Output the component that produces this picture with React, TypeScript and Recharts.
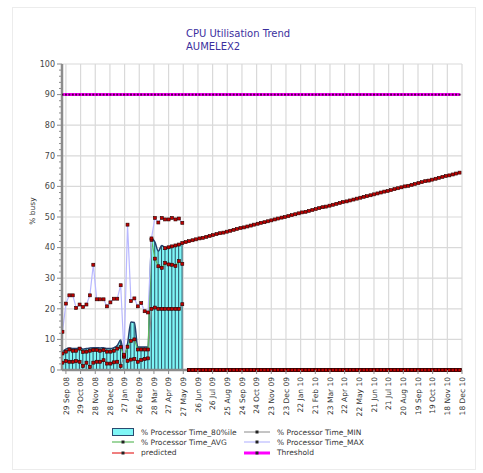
import { ComposedChart, Area, Bar, Line, XAxis, YAxis, CartesianGrid } from "recharts";

// x axis labels, one every 30 days starting 29 Sep 08
const TICK_LABELS = [
  "29 Sep 08", "29 Oct 08", "28 Nov 08", "28 Dec 08", "27 Jan 09", "26 Feb 09", "28 Mar 09",
  "27 Apr 09", "27 May 09", "26 Jun 09", "26 Jul 09", "25 Aug 09", "24 Sep 09", "24 Oct 09",
  "23 Nov 09", "23 Dec 09", "22 Jan 10", "21 Feb 10", "23 Mar 10", "22 Apr 10", "22 May 10",
  "21 Jun 10", "21 Jul 10", "20 Aug 10", "19 Sep 10", "19 Oct 10", "18 Nov 10", "18 Dec 10",
];

// weekly samples, first one a week before 29 Sep 08
const FIRST_DAY = -7;
const WEEK = 7;

// measured history (36 weeks)
const HIST_P80 = [
  6.0, 6.8, 7.2, 7.0, 7.0, 7.3, 6.8, 7.0, 7.2, 7.3,
  7.3, 7.2, 7.3, 7.0, 7.0, 7.3, 8.0, 9.8, 4.5, 8.5,
  15.7, 15.5, 7.5, 7.5, 7.5, 7.5, 42.9, 41.8, 38.8, 40.7,
  40.0, 40.3, 40.5, 40.8, 41.0, 41.5,
];
const HIST_AVG = [
  5.4, 6.0, 6.7, 6.3, 6.3, 7.0, 5.9, 6.0, 6.3, 6.5,
  6.5, 6.3, 6.5, 6.0, 6.0, 6.3, 7.0, 7.5, 4.4, 7.6,
  9.5, 10.0, 6.7, 6.7, 6.7, 6.7, 42.5, 36.4, 33.9, 33.4,
  35.0, 34.5, 34.4, 34.0, 35.6, 34.7,
];
const HIST_MIN = [
  2.4, 2.9, 2.7, 2.7, 2.9, 2.7, 1.3, 2.4, 1.0, 2.4,
  2.7, 2.7, 3.2, 2.1, 2.1, 2.5, 2.7, 1.3, 4.4, 3.0,
  3.4, 3.6, 2.7, 3.3, 3.6, 3.8, 20.0, 20.4, 20.0, 20.0,
  20.0, 20.0, 20.0, 20.0, 20.0, 21.5,
];
const HIST_MAX = [
  12.5, 21.7, 24.4, 24.4, 20.3, 21.4, 20.6, 21.4, 24.4, 34.4,
  23.1, 23.1, 23.1, 20.8, 22.1, 23.3, 23.3, 27.7, 5.0, 47.5,
  22.5, 23.4, 20.8, 21.9, 19.2, 18.8, 43.0, 49.7, 48.2, 49.7,
  49.2, 49.2, 49.7, 49.2, 49.5, 48.1,
];

// trend forecast, from week 30 to the end
const PREDICTED_START = 30;
const PREDICTED = [
  39.8, 40.1, 40.4, 40.7, 41.0, 41.5, 41.8, 42.1, 42.4, 42.7,
  43.0, 43.2, 43.5, 43.8, 44.1, 44.4, 44.7, 44.9, 45.2, 45.5,
  45.8, 46.1, 46.4, 46.6, 46.9, 47.2, 47.5, 47.8, 48.1, 48.3,
  48.6, 48.9, 49.2, 49.5, 49.8, 50.0, 50.3, 50.6, 50.9, 51.2,
  51.5, 51.7, 52.0, 52.3, 52.6, 52.9, 53.2, 53.4, 53.7, 54.0,
  54.3, 54.6, 54.9, 55.1, 55.4, 55.7, 56.0, 56.3, 56.6, 56.8,
  57.1, 57.4, 57.7, 58.0, 58.3, 58.5, 58.8, 59.1, 59.4, 59.7,
  60.0, 60.2, 60.5, 60.8, 61.1, 61.4, 61.7, 61.9, 62.2, 62.5,
  62.8, 63.1, 63.4, 63.6, 63.9, 64.2, 64.5,
];

// after the history the measured series sit on 0 (one empty week in between)
const FUTURE_START = 37;
const FUTURE_VALUE = 0;
const THRESHOLD = 90;

const WEEK_COUNT = PREDICTED_START + PREDICTED.length;

const pick = (arr: number[], i: number) =>
  i < arr.length ? arr[i] : i >= FUTURE_START ? FUTURE_VALUE : null;

const rows = Array.from({ length: WEEK_COUNT }, (_, i) => ({
  day: FIRST_DAY + WEEK * i,
  p80: pick(HIST_P80, i),
  avg: pick(HIST_AVG, i),
  min: pick(HIST_MIN, i),
  max: pick(HIST_MAX, i),
  predicted: i >= PREDICTED_START ? PREDICTED[i - PREDICTED_START] : null,
  threshold: THRESHOLD,
}));

const TICK_DAYS = TICK_LABELS.map((_, k) => k * 30);
const Y_TICKS = Array.from({ length: 51 }, (_, k) => k * 2);
const Y_GRID = [10, 20, 30, 40, 50, 60, 70, 80, 90, 100];
const X_DOMAIN = [-8, 810];

const FONT = "'DejaVu Sans', Verdana, sans-serif";
const AXIS_GRAY = "#8c8c8c";

const squareDot = (fill: string, stroke: string, size: number) => (p: any) => {
  if (p.cx == null || p.cy == null || p.value == null) return <g key={`n${p.index}`} />;
  return (
    <rect key={`d${p.index}`} x={p.cx - size / 2} y={p.cy - size / 2} width={size} height={size}
      fill={fill} stroke={stroke} strokeWidth={stroke === "none" ? 0 : 0.6} />
  );
};
const redDot = squareDot("#c00000", "#2a0000", 3);
const threshDot = squareDot("#4a0040", "none", 2);

const XTick = (props: any) => {
  const { x, y, payload } = props;
  const ty = y + 7;
  return (
    <g>
      <line x1={x} y1={y} x2={x} y2={y + 4} stroke={AXIS_GRAY} />
      <text x={x} y={ty} transform={`rotate(-90 ${x} ${ty})`} textAnchor="end" dy="0.35em"
        fontSize={7.5} fontFamily={FONT} fill="#333">
        {TICK_LABELS[payload.index]}
      </text>
    </g>
  );
};

const YTick = (props: any) => {
  const { x, y, payload } = props;
  const major = payload.value % 10 === 0;
  return (
    <g>
      <line x1={x} y1={y} x2={x - (major ? 5 : 3)} y2={y} stroke={AXIS_GRAY} />
      {major && (
        <text x={x - 7} y={y} textAnchor="end" dy="0.35em" fontSize={8} fontFamily={FONT} fill="#444">
          {payload.value}
        </text>
      )}
    </g>
  );
};

const legendRows = [
  [
    { label: "% Processor Time_80%ile", kind: "box" },
    { label: "% Processor Time_MIN", kind: "line", color: "#8a8a8a", width: 1 },
  ],
  [
    { label: "% Processor Time_AVG", kind: "line", color: "#7fc97f", width: 1.5 },
    { label: "% Processor Time_MAX", kind: "line", color: "#c8c8ff", width: 1.5 },
  ],
  [
    { label: "predicted", kind: "line", color: "#e00000", width: 1 },
    { label: "Threshold", kind: "line", color: "#ff00ff", width: 3 },
  ],
];

const LegendSymbol = ({ item, w }: { item: any; w: number }) => (
  <svg width={w} height={10} style={{ display: "block", flex: "none" }}>
    {item.kind === "box" ? (
      <rect x={0.5} y={1.5} width={w - 1} height={7} fill="#7ff6f6" stroke="#2a4a70" />
    ) : (
      <>
        <line x1={0} y1={5} x2={w} y2={5} stroke={item.color} strokeWidth={item.width} />
        <rect x={w / 2 - 1.5} y={3.5} width={3} height={3} fill="#222" />
      </>
    )}
  </svg>
);

export default function App() {
  return (
    <div style={{ position: "absolute", left: 0, top: 0, width: 483, height: 473, background: "#fff" }}>
      <div style={{ position: "absolute", left: 12, top: 7, width: 462, height: 461, border: "1px solid #ececec" }} />
      <div style={{ position: "absolute", left: 186, top: 26.5, fontFamily: FONT, fontSize: 10, lineHeight: "13.3px", color: "#3b2f9e" }}>
        <div>CPU Utilisation Trend</div>
        <div>AUMELEX2</div>
      </div>
      <div style={{ position: "absolute", left: 32, top: 211, fontFamily: FONT, fontSize: 7.5, color: "#333",
        transform: "translate(-50%, -50%) rotate(-90deg)", whiteSpace: "nowrap" }}>
        % busy
      </div>

      <div style={{ position: "absolute", left: 0, top: 0 }}>
        <ComposedChart width={483} height={473} data={rows} margin={{ top: 64, right: 21, left: 22, bottom: 53 }}>
          <CartesianGrid stroke="#d9d9d9" strokeWidth={1.2} horizontalValues={Y_GRID} />
          <XAxis type="number" dataKey="day" domain={X_DOMAIN} ticks={TICK_DAYS} interval={0}
            allowDataOverflow tick={<XTick />} tickLine={false} tickSize={0} tickMargin={0} height={50}
            axisLine={{ stroke: AXIS_GRAY, strokeWidth: 2.5 }} />
          <XAxis xAxisId="top" orientation="top" type="number" dataKey="day" domain={X_DOMAIN}
            height={0} tick={false} tickLine={false} axisLine={{ stroke: "#333", strokeWidth: 1 }} />
          <YAxis domain={[0, 100]} ticks={Y_TICKS} interval={0} width={40} tick={<YTick />}
            tickLine={false} tickSize={0} tickMargin={0} axisLine={{ stroke: AXIS_GRAY, strokeWidth: 2.5 }} />
          <YAxis yAxisId="right" orientation="right" domain={[0, 100]} width={0} tick={false}
            tickLine={false} axisLine={{ stroke: "#555", strokeWidth: 1 }} />

          <Area type="monotone" dataKey="p80" fill="#7ff6f6" fillOpacity={1} stroke="#23406e"
            strokeWidth={1.5} dot={false} activeDot={false} isAnimationActive={false} />
          <Bar dataKey="p80" barSize={1} fill="#2b5366" isAnimationActive={false} />
          <Line type="linear" dataKey="min" stroke="#8a8a8a" strokeWidth={1} dot={redDot}
            activeDot={false} isAnimationActive={false} />
          <Line type="linear" dataKey="avg" stroke="#5fb85f" strokeWidth={1.2} dot={redDot}
            activeDot={false} isAnimationActive={false} />
          <Line type="linear" dataKey="max" stroke="#b8b8ff" strokeWidth={1.2} dot={redDot}
            activeDot={false} isAnimationActive={false} />
          <Line type="linear" dataKey="predicted" stroke="#e00000" strokeWidth={1} dot={redDot}
            activeDot={false} isAnimationActive={false} />
          <Line type="linear" dataKey="threshold" stroke="#ff00ff" strokeWidth={3} dot={threshDot}
            activeDot={false} isAnimationActive={false} />
        </ComposedChart>
      </div>

      <div style={{ position: "absolute", left: 112, top: 427, fontFamily: FONT, fontSize: 7.5, color: "#333" }}>
        {legendRows.map((row, r) => (
          <div key={r} style={{ display: "flex", height: 10.3, alignItems: "center" }}>
            <div style={{ display: "flex", alignItems: "center", width: 132 }}>
              <LegendSymbol item={row[0]} w={22} />
              <span style={{ marginLeft: 7, whiteSpace: "nowrap" }}>{row[0].label}</span>
            </div>
            <div style={{ display: "flex", alignItems: "center" }}>
              <LegendSymbol item={row[1]} w={26} />
              <span style={{ marginLeft: 7, whiteSpace: "nowrap" }}>{row[1].label}</span>
            </div>
          </div>
        ))}
      </div>
    </div>
  );
}
